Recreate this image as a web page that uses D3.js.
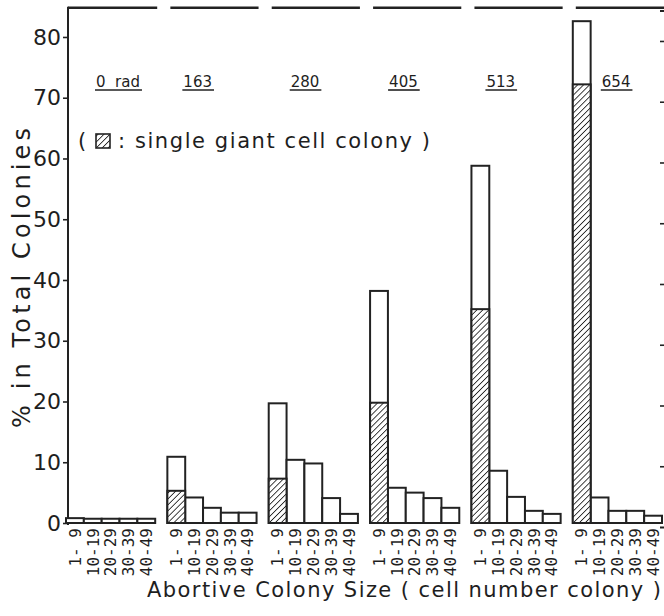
<!DOCTYPE html>
<html>
<head>
<meta charset="utf-8">
<script src="https://cdn.jsdelivr.net/npm/d3@7"></script>
<style>
  body { margin: 0; background: #fff; }
  svg { display: block; }
  text { fill: #1e1e1e; font-family: "DejaVu Sans", sans-serif; }
</style>
</head>
<body>
<svg id="chart"></svg>
<script>
// doses (rad) and colony size classes
var doses = ["0 rad", "163", "280", "405", "513", "654"];
var sizeBins = [" 1- 9", "10-19", "20-29", "30-39", "40-49"];
var yTicks = [0, 10, 20, 30, 40, 50, 60, 70, 80];

// % in total colonies, per dose, per size class
var total0 = [0.8, 0.7, 0.7, 0.7, 0.7];
var total163 = [10.9, 4.2, 2.5, 1.7, 1.7];
var total280 = [19.7, 10.4, 9.8, 4.1, 1.5];
var total405 = [38.2, 5.8, 5.0, 4.1, 2.5];
var total513 = [58.8, 8.6, 4.3, 2.0, 1.5];
var total654 = [82.6, 4.2, 2.0, 2.0, 1.2];

// single giant cell colonies (hatched part, 1-9 class only)
var giant = [0, 5.3, 7.3, 19.8, 35.2, 72.2];

var totals = [total0, total163, total280, total405, total513, total654];

var svgWidth = 664, svgHeight = 616;
var svg = d3.select("#chart").attr("width", svgWidth).attr("height", svgHeight);

var defs = svg.append("defs");
var pat = defs.append("pattern")
    .attr("id", "hatch")
    .attr("patternUnits", "userSpaceOnUse")
    .attr("width", 4.2).attr("height", 4.2)
    .attr("patternTransform", "rotate(45)");
pat.append("rect").attr("width", 4.2).attr("height", 4.2).attr("fill", "#fff");
pat.append("line").attr("x1", 0).attr("y1", 0).attr("x2", 0).attr("y2", 4.2)
    .attr("stroke", "#222").attr("stroke-width", 1.7);

// scales
var y = d3.scaleLinear().domain([0, 85]).range([523, 6.6]);
var xg = d3.scaleBand().domain(doses).range([66, 662]).paddingInner(0.12).paddingOuter(0);
var xb = d3.scaleBand().domain(sizeBins).range([0, xg.bandwidth()]).padding(0);

var axisX = 68;

// top dashed frame: one segment per group
svg.append("g").selectAll("line")
    .data(doses).enter().append("line")
    .attr("x1", function (d, i) { return i === 0 ? axisX : xg(d) + 3; })
    .attr("x2", function (d) { return xg(d) + xg.bandwidth() + 2; })
    .attr("y1", y(84.8)).attr("y2", y(84.8))
    .attr("stroke", "#222").attr("stroke-width", 2.4);

// left axis
var gy = svg.append("g").attr("transform", "translate(" + axisX + ",0)")
    .call(d3.axisLeft(y).tickValues(yTicks).tickSize(5).tickPadding(2));
gy.select(".domain").remove();
gy.selectAll(".tick line").attr("stroke", "#222").attr("stroke-width", 1.6);
gy.selectAll(".tick text").style("font-size", "22px").attr("fill", "#1e1e1e");
svg.append("line").attr("x1", axisX).attr("x2", axisX)
    .attr("y1", y(84.8) - 1).attr("y2", 525)
    .attr("stroke", "#222").attr("stroke-width", 2);

// right axis (cut off at the edge)
var gr = svg.append("g").attr("transform", "translate(666,4)")
    .call(d3.axisRight(y).tickValues(yTicks.slice(1)).tickSize(-6).tickFormat(""));
gr.select(".domain").attr("stroke", "#222").attr("stroke-width", 2);
gr.selectAll(".tick line").attr("stroke", "#222").attr("stroke-width", 1.6);

// bars
var groups = svg.append("g").selectAll("g.grp")
    .data(doses).enter().append("g")
    .attr("class", "grp")
    .attr("transform", function (d) { return "translate(" + xg(d) + ",0)"; });

groups.selectAll("rect.tot")
    .data(function (d, i) {
        return totals[i].map(function (v, j) { return { bin: sizeBins[j], value: v }; });
    })
    .enter().append("rect")
    .attr("class", "tot")
    .attr("x", function (d) { return xb(d.bin); })
    .attr("width", xb.bandwidth())
    .attr("y", function (d) { return y(d.value); })
    .attr("height", function (d) { return y(0) - y(d.value); })
    .attr("fill", "#fff")
    .attr("stroke", "#222")
    .attr("stroke-width", 2);

groups.filter(function (d, i) { return giant[i] > 0; })
    .append("rect")
    .attr("class", "giant")
    .attr("x", xb(sizeBins[0]))
    .attr("width", xb.bandwidth())
    .attr("y", function (d) { return y(giant[doses.indexOf(d)]); })
    .attr("height", function (d) { return y(0) - y(giant[doses.indexOf(d)]); })
    .attr("fill", "url(#hatch)")
    .attr("stroke", "#222")
    .attr("stroke-width", 2);

// size class labels, rotated
groups.selectAll("text.bin")
    .data(sizeBins).enter().append("text")
    .attr("class", "bin")
    .attr("transform", function (d) {
        return "translate(" + (xb(d) + xb.bandwidth() / 2) + ",528) rotate(-90)";
    })
    .attr("text-anchor", "end")
    .attr("dy", "0.36em")
    .style("font-family", "'DejaVu Sans Mono', monospace")
    .style("font-size", "16px")
    .style("white-space", "pre")
    .text(function (d) { return d; });

// dose labels, underlined
var labelDx = [30, 16, 22, 19, 15, 29];
groups.each(function (d, i) {
    var g = d3.select(this);
    var t = g.append("text")
        .attr("x", labelDx[i])
        .attr("y", 87)
        .style("font-size", "15px")
        .style("white-space", "pre")
        .text(i === 0 ? "0  rad" : d);
    var bb = t.node().getBBox();
    g.append("line")
        .attr("x1", bb.x - 1).attr("x2", bb.x + bb.width + 2)
        .attr("y1", 90).attr("y2", 90)
        .attr("stroke", "#222").attr("stroke-width", 1.6);
});

// legend
var leg = svg.append("g");
leg.append("text").attr("x", 78).attr("y", 148).style("font-size", "21px").text("(");
leg.append("rect").attr("x", 96).attr("y", 134).attr("width", 14).attr("height", 14)
    .attr("fill", "url(#hatch)").attr("stroke", "#222").attr("stroke-width", 1.6);
leg.append("text").attr("x", 118).attr("y", 148).style("font-size", "21px")
    .attr("textLength", 312).attr("lengthAdjust", "spacing")
    .text(": single giant cell colony )");

// axis titles
svg.append("text")
    .attr("transform", "translate(30,278) rotate(-90)")
    .attr("text-anchor", "middle")
    .style("font-size", "24px")
    .attr("textLength", 300).attr("lengthAdjust", "spacing")
    .text("% in Total Colonies");

svg.append("text")
    .attr("x", 147).attr("y", 597)
    .style("font-size", "21px")
    .attr("textLength", 514).attr("lengthAdjust", "spacing")
    .text("Abortive Colony Size ( cell number colony )");
</script>
</body>
</html>
